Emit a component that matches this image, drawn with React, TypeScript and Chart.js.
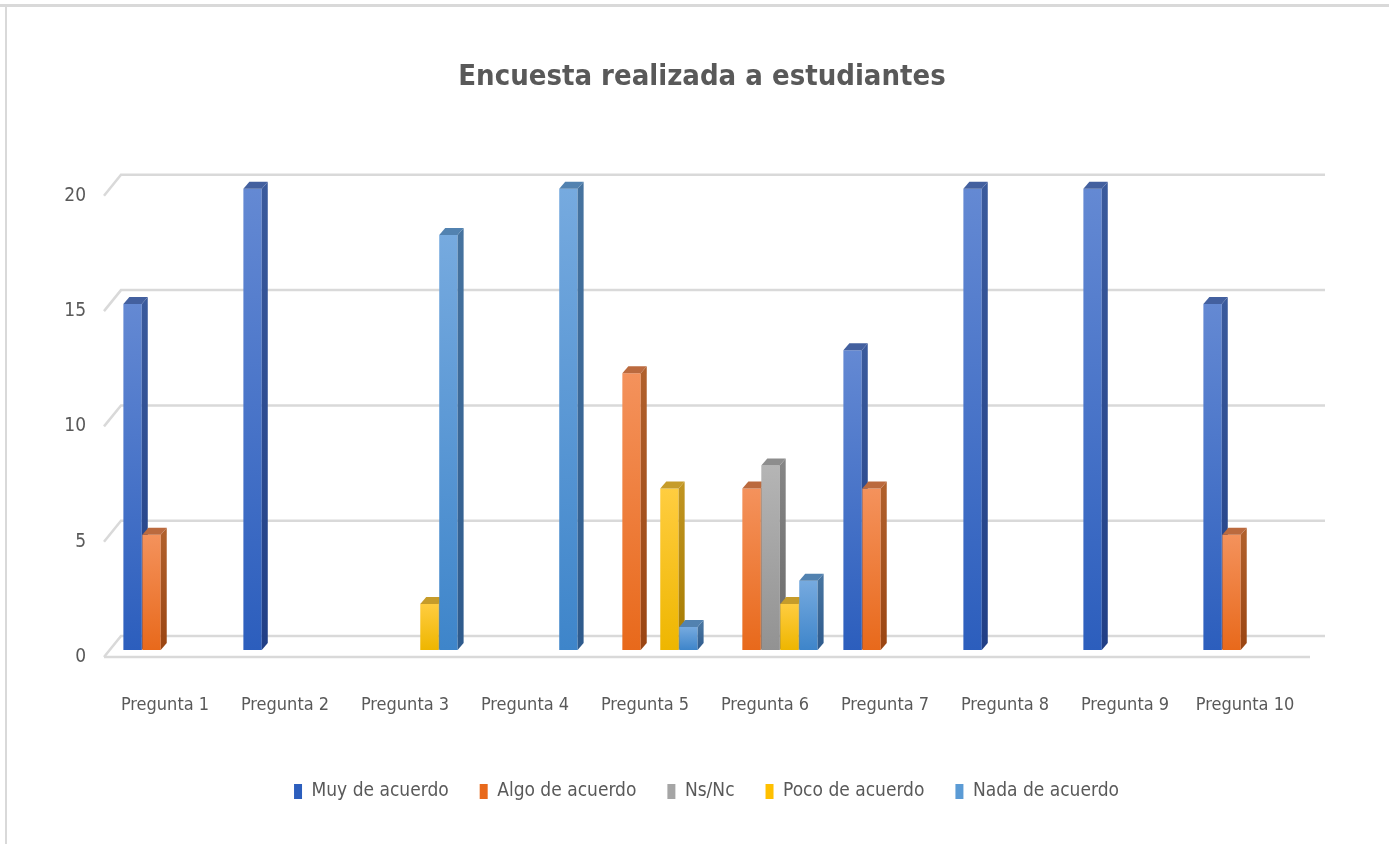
import React, { useEffect, useRef } from 'react';
import { Chart, registerables } from 'chart.js';

Chart.register(...registerables);

const categories = [
  'Pregunta 1', 'Pregunta 2', 'Pregunta 3', 'Pregunta 4', 'Pregunta 5',
  'Pregunta 6', 'Pregunta 7', 'Pregunta 8', 'Pregunta 9', 'Pregunta 10',
];
const seriesNames = ['Muy de acuerdo', 'Algo de acuerdo', 'Ns/Nc', 'Poco de acuerdo', 'Nada de acuerdo'];
const muyDeAcuerdo = [15, 20, 0, 0, 0, 0, 13, 20, 20, 15];
const algoDeAcuerdo = [5, 0, 0, 0, 12, 7, 7, 0, 0, 5];
const nsNc = [0, 0, 0, 0, 0, 8, 0, 0, 0, 0];
const pocoDeAcuerdo = [0, 0, 2, 0, 7, 2, 0, 0, 0, 0];
const nadaDeAcuerdo = [0, 0, 18, 20, 1, 3, 0, 0, 0, 0];
const yTicks = [0, 5, 10, 15, 20];

const seriesValues = [muyDeAcuerdo, algoDeAcuerdo, nsNc, pocoDeAcuerdo, nadaDeAcuerdo];

const legendColors = ['#4472C4', '#ED7D31', '#A5A5A5', '#FFC000', '#5B9BD5'];
const frontTop = ['#6489d3', '#f4925c', '#b5b5b5', '#ffcd40', '#76aadf'];
const frontBottom = ['#2c5ebd', '#e8691b', '#929292', '#eeb600', '#3e85ca'];
const sideTop = ['#3a5a9c', '#b0602c', '#858585', '#c09420', '#46739f'];
const sideBottom = ['#213f86', '#9a4512', '#6a6a6a', '#a67b00', '#2e5a8c'];
const topFace = ['#43609f', '#bb6a3e', '#8d8d8d', '#c69c2a', '#5282b0'];

const FONT = "'Liberation Sans Narrow', 'DejaVu Sans Condensed', 'Arial Narrow', 'Open Sans', sans-serif";
const TEXT = '#595959';
const GRID = '#d9d9d9';

// 3D geometry (pixels)
const WALL_DX = 16;
const WALL_DY = -21;
const BAR_DX = 5.5;
const BAR_DY = -7;
const DEPTH_DX = 6;
const DEPTH_DY = -7;

const threeD = {
  id: 'threeD',
  afterLayout(chart: any) {
    const t = chart.titleBlock;
    if (t) {
      t.left = 99;
      t.right = 1305;
      t.width = t.right - t.left;
    }
    const lg = chart.legend;
    if (lg) {
      lg.left = 108;
      lg.right = 1305;
      lg.width = lg.right - lg.left;
    }
  },
  beforeDraw(chart: any) {
    const ctx = chart.ctx;
    ctx.save();
    ctx.fillStyle = '#ffffff';
    ctx.fillRect(0, 0, chart.width, chart.height);
    ctx.fillStyle = GRID;
    ctx.fillRect(0, 4, chart.width, 3);
    ctx.fillRect(5, 4, 2, chart.height - 4);
    ctx.restore();
  },
  beforeDatasetsDraw(chart: any) {
    const ctx = chart.ctx;
    const { left, right, bottom } = chart.chartArea;
    const ys = chart.scales.y;
    ctx.save();
    ctx.strokeStyle = GRID;
    ctx.lineWidth = 2.5;
    yTicks.forEach((v) => {
      const y = ys.getPixelForValue(v);
      ctx.beginPath();
      ctx.moveTo(left - 1, y);
      ctx.lineTo(left + WALL_DX, y + WALL_DY);
      ctx.lineTo(right + 20, y + WALL_DY);
      ctx.stroke();
    });
    ctx.beginPath();
    ctx.moveTo(left - 1, bottom);
    ctx.lineTo(right + 5, bottom);
    ctx.stroke();
    ctx.restore();
  },
  beforeDatasetDraw() {
    return false;
  },
  afterDatasetsDraw(chart: any) {
    const ctx = chart.ctx;
    ctx.save();
    ctx.translate(BAR_DX, BAR_DY);
    chart.data.datasets.forEach((_ds: any, di: number) => {
      const meta = chart.getDatasetMeta(di);
      meta.data.forEach((el: any) => {
        const { x, y, base, width } = el.getProps(['x', 'y', 'base', 'width'], true);
        if (base - y < 0.5) return;
        el.draw(ctx);
        const l = x - width / 2;
        const r = x + width / 2;
        const sg = ctx.createLinearGradient(0, y, 0, base);
        sg.addColorStop(0, sideTop[di]);
        sg.addColorStop(1, sideBottom[di]);
        ctx.fillStyle = sg;
        ctx.beginPath();
        ctx.moveTo(r, y);
        ctx.lineTo(r + DEPTH_DX, y + DEPTH_DY);
        ctx.lineTo(r + DEPTH_DX, base + DEPTH_DY);
        ctx.lineTo(r, base);
        ctx.closePath();
        ctx.fill();
        ctx.fillStyle = topFace[di];
        ctx.beginPath();
        ctx.moveTo(l, y);
        ctx.lineTo(l + DEPTH_DX, y + DEPTH_DY);
        ctx.lineTo(r + DEPTH_DX, y + DEPTH_DY);
        ctx.lineTo(r, y);
        ctx.closePath();
        ctx.fill();
      });
    });
    ctx.restore();
  },
};

export default function App() {
  const canvasRef = useRef<HTMLCanvasElement | null>(null);

  useEffect(() => {
    document.body.style.margin = '0';
    const canvas = canvasRef.current;
    if (!canvas) return;

    const datasets = seriesNames.map((name, i) => ({
      label: name,
      data: seriesValues[i],
      borderWidth: 0,
      backgroundColor: (c: any) => {
        if (c.type !== 'data') return legendColors[i];
        const chart = c.chart;
        const ys = chart.scales && chart.scales.y;
        if (!ys) return legendColors[i];
        const top = ys.getPixelForValue(c.raw);
        const base = ys.getPixelForValue(0);
        if (!isFinite(top) || !isFinite(base) || base - top < 1) return legendColors[i];
        const g = chart.ctx.createLinearGradient(0, top, 0, base);
        g.addColorStop(0, frontTop[i]);
        g.addColorStop(1, frontBottom[i]);
        return g;
      },
      categoryPercentage: 0.79,
      barPercentage: 0.97,
    }));

    const chart = new Chart(canvas, {
      type: 'bar',
      data: { labels: categories, datasets },
      plugins: [threeD],
      options: {
        responsive: false,
        animation: false,
        events: [],
        layout: { padding: { left: 0, right: 84, top: 0, bottom: 33 } },
        plugins: {
          title: {
            display: true,
            text: 'Encuesta realizada a estudiantes',
            color: TEXT,
            font: { family: FONT, size: 29, weight: 'bold' },
            padding: { top: 60, bottom: 101 },
          },
          legend: {
            position: 'bottom',
            labels: {
              color: TEXT,
              boxWidth: 8,
              boxHeight: 15,
              padding: 31,
              font: { family: FONT, size: 19 },
            },
          },
          tooltip: { enabled: false },
        },
        scales: {
          x: {
            grid: { display: false, drawTicks: false },
            border: { display: false },
            ticks: {
              color: TEXT,
              font: { family: FONT, size: 18 },
              padding: 38,
              maxRotation: 0,
              autoSkip: false,
            },
            afterFit: (s: any) => {
              s.height = 94;
            },
          },
          y: {
            min: 0,
            max: 20,
            grid: { display: false, drawTicks: false },
            border: { display: false },
            ticks: {
              color: TEXT,
              font: { family: FONT, size: 19 },
              padding: 19,
            },
            afterBuildTicks: (s: any) => {
              s.ticks = yTicks.map((v) => ({ value: v }));
            },
            afterFit: (s: any) => {
              s.width = 105;
            },
          },
        },
      },
    });

    return () => {
      chart.destroy();
    };
  }, []);

  return (
    <div style={{ position: 'relative', width: 1389, height: 844 }}>
      <canvas ref={canvasRef} width={1389} height={844} style={{ display: 'block' }} />
    </div>
  );
}
